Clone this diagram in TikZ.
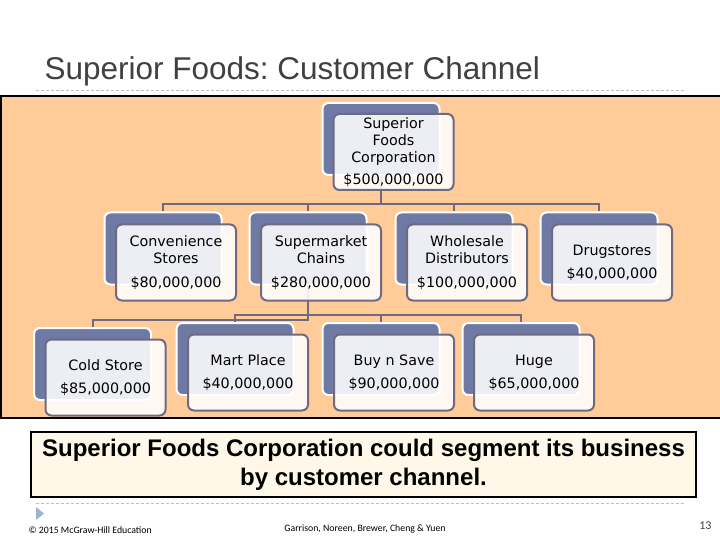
\documentclass[tikz,border=0pt]{standalone}
\usepackage{fontspec}
\setmainfont{Liberation Sans}
\newfontfamily\boxfont{DejaVu Sans}
\newfontfamily\footfont{Carlito}
\usetikzlibrary{calc}
\definecolor{cpeach}{HTML}{FFCC99}
\definecolor{cslate}{HTML}{6E7AA4}
\definecolor{cedge}{HTML}{6F6A80}
\definecolor{ccream}{HTML}{FFF8E8}
\definecolor{ctitle}{HTML}{404040}
\definecolor{cdash}{HTML}{BFBFBF}
\definecolor{ctri}{HTML}{9DB3D3}
\tikzset{
  every picture/.style={line width=1pt},
  back/.style={draw=white, fill=cslate, rounded corners=6pt, line width=2pt, minimum width=117pt, minimum height=72pt},
  front/.style={draw=cedge, fill=white, fill opacity=0.88, text opacity=1, rounded corners=6pt, line width=2pt,
                minimum width=120pt, minimum height=76pt, inner sep=1pt, align=center, font=\boxfont\fontsize{14.3}{16.8}\selectfont},
  link/.style={draw=cedge, line width=2pt},
  rule/.style={draw=cdash, line width=0.8pt, dash pattern=on 3pt off 2pt},
  title/.style={font=\fontsize{31.5}{36}\selectfont, text=ctitle, anchor=base west, inner sep=0pt},
  note/.style={font=\footfont\fontsize{9.8}{12}\selectfont, inner sep=0pt},
}

\begin{document}
\begin{tikzpicture}[x=1pt, y=-1pt]
  \useasboundingbox (0,0) rectangle (720,540);
  \node[title] (head) at (44,80) {Superior Foods:\ Customer Channel};
  \draw[rule] (36,90) -- (686,90);
  \fill[cpeach] (0,96) rectangle (720,418);
  \draw[line width=2pt] (720,96) -- (1,96) -- (1,418) -- (720,418);
  % shaded back plates
  \foreach \n/\x/\y in {corp/381/139, conv/163/248.5, super/308/248.5, whole/454/248.5, drug/599/248.5,
                        cold/92.5/364, mart/235/359, buy/381/359, huge/521/359}
    \node[back] (\n-b) at (\x,\y) {};
  % connectors
  \coordinate (bus1) at (381,204);
  \coordinate (bus2) at (308,315);
  \coordinate (bus3) at (308,320);
  \foreach \n in {conv, super, whole, drug}
    \draw[link] (corp-b.south) -- (corp-b.south |- bus1) -| (\n-b.north);
  \foreach \n in {mart, buy, huge}
    \draw[link] (super-b.south) -- (super-b.south |- bus2) -| (\n-b.north);
  \draw[link] (super-b.south) -- (super-b.south |- bus3) -| (cold-b.north);
  % front cards
  \node[front] (corp) at ($(corp-b)+(12.5,13)$) {Superior\\Foods\\Corporation\\[5pt]\$500,000,000};
  \node[front] (conv) at ($(conv-b)+(13,14)$) {Convenience\\Stores\\[7pt]\$80,000,000};
  \node[front] (super) at ($(super-b)+(13,14)$) {Supermarket\\Chains\\[7pt]\$280,000,000};
  \node[front] (whole) at ($(whole-b)+(13,14)$) {Wholesale\\Distributors\\[7pt]\$100,000,000};
  \node[front] (drug) at ($(drug-b)+(13,14)$) {Drugstores\\[6pt]\$40,000,000};
  \node[front] (cold) at ($(cold-b)+(13,13.5)$) {Cold Store\\[6pt]\$85,000,000};
  \node[front] (mart) at ($(mart-b)+(13,13.5)$) {Mart Place\\[6pt]\$40,000,000};
  \node[front] (buy) at ($(buy-b)+(13,13.5)$) {Buy n Save\\[6pt]\$90,000,000};
  \node[front] (huge) at ($(huge-b)+(13,13.5)$) {Huge\\[6pt]\$65,000,000};
  % message and footer
  \node[draw, line width=1.2pt, fill=ccream, minimum width=665pt, minimum height=65pt, align=center,
        font=\bfseries\fontsize{24}{29}\selectfont] (msg) at (363.5,464.5)
        {Superior Foods Corporation could segment its business\\by customer channel.};
  \draw[rule] (36,503) -- (686,503);
  \fill[ctri] (36,507) -- (44,513.5) -- (36,520) -- cycle;
  \node[note, anchor=base west] (copy) at (28,533) {© 2015 McGraw-Hill Education};
  \node[note, anchor=base] (authors) at (365,531) {Garrison, Noreen, Brewer, Cheng \& Yuen};
  \node[note, anchor=base east, font=\footfont\fontsize{12}{14}\selectfont, text=ctitle] (page) at (712,529) {13};
\end{tikzpicture}
\end{document}
